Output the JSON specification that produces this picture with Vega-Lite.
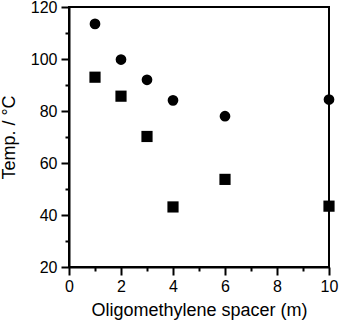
{
  "$schema": "https://vega.github.io/schema/vega-lite/v6.json",
  "width": 260,
  "height": 260,
  "autosize": "none",
  "padding": {"left": 69, "top": 7, "right": 11, "bottom": 56},
  "background": "white",
  "config": {
    "view": {"stroke": "black", "strokeWidth": 2},
    "font": "Liberation Sans",
    "axis": {
      "grid": false,
      "ticks": true,
      "domainColor": "black",
      "domainWidth": 2,
      "tickColor": "black",
      "tickWidth": 2,
      "tickOpacity": 1,
      "labelColor": "black",
      "titleColor": "black",
      "labelFont": "Liberation Sans",
      "titleFont": "Liberation Sans",
      "labelFontSize": 16,
      "titleFontSize": 18,
      "titleFontWeight": "normal"
    }
  },
  "data": {
    "values": [
      {"m": 1, "temp": 113.5, "series": "circle"},
      {"m": 2, "temp": 99.8, "series": "circle"},
      {"m": 3, "temp": 92, "series": "circle"},
      {"m": 4, "temp": 84.1, "series": "circle"},
      {"m": 6, "temp": 78, "series": "circle"},
      {"m": 10, "temp": 84.4, "series": "circle"},
      {"m": 1, "temp": 93, "series": "square"},
      {"m": 2, "temp": 85.7, "series": "square"},
      {"m": 3, "temp": 70.2, "series": "square"},
      {"m": 4, "temp": 43.1, "series": "square"},
      {"m": 6, "temp": 53.7, "series": "square"},
      {"m": 10, "temp": 43.4, "series": "square"}
    ]
  },
  "resolve": {"axis": {"x": "independent", "y": "independent"}},
  "layer": [
    {
      "mark": {"type": "point", "filled": true, "opacity": 0, "clip": false},
      "encoding": {
        "x": {
          "field": "m",
          "type": "quantitative",
          "scale": {"domain": [0, 10], "nice": false, "zero": false},
          "axis": {
            "orient": "bottom",
            "title": null,
            "values": [1, 3, 5, 7, 9],
            "labels": false,
            "domain": false,
            "tickSize": 4
          }
        },
        "y": {
          "field": "temp",
          "type": "quantitative",
          "scale": {"domain": [20, 120], "nice": false, "zero": false},
          "axis": {
            "orient": "left",
            "title": null,
            "values": [30, 50, 70, 90, 110],
            "labels": false,
            "domain": false,
            "tickSize": 4
          }
        }
      }
    },
    {
      "mark": {"type": "point", "filled": true, "opacity": 1, "color": "black", "clip": false},
      "encoding": {
        "x": {
          "field": "m",
          "type": "quantitative",
          "scale": {"domain": [0, 10], "nice": false, "zero": false},
          "axis": {
            "orient": "bottom",
            "title": "Oligomethylene spacer (m)",
            "values": [0, 2, 4, 6, 8, 10],
            "tickSize": 8,
            "labelPadding": 3,
            "titlePadding": 7,
            "labelFlush": false
          }
        },
        "y": {
          "field": "temp",
          "type": "quantitative",
          "scale": {"domain": [20, 120], "nice": false, "zero": false},
          "axis": {
            "orient": "left",
            "title": "Temp. / °C",
            "values": [20, 40, 60, 80, 100, 120],
            "tickSize": 8,
            "labelPadding": 4,
            "titlePadding": 12,
            "labelFlush": false
          }
        },
        "shape": {
          "field": "series",
          "type": "nominal",
          "scale": {"domain": ["circle", "square"], "range": ["circle", "square"]},
          "legend": null
        },
        "size": {
          "field": "series",
          "type": "nominal",
          "scale": {"domain": ["circle", "square"], "range": [115, 125]},
          "legend": null
        }
      }
    }
  ]
}
